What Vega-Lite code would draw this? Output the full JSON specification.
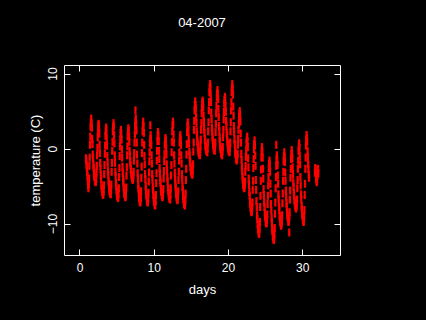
{
"$schema":"https://vega.github.io/schema/vega-lite/v6.json",
"width":276,"height":190,
"autosize":{"type":"none"},
"padding":{"left":64,"top":65,"right":86,"bottom":65},
"background":"black",
"config":{"view":{"stroke":"white","strokeWidth":1},"font":"Liberation Sans"},
"title":{"text":"04-2007","color":"white","font":"Liberation Sans","fontSize":13,"fontWeight":"normal","anchor":"middle","frame":"group","baseline":"alphabetic","offset":25},
"data":{"values":[
{"h":21,"t":-1.3},{"h":22,"t":-1.6},{"h":23,"t":-2.2},
{"h":24,"t":-2.6},{"h":25,"t":-3.1},{"h":26,"t":-3.7},{"h":27,"t":-4.3},{"h":28,"t":-4.9},{"h":29,"t":-5.3},{"h":30,"t":-4.7},{"h":31,"t":-4.0},{"h":32,"t":-2.3},{"h":33,"t":-1.2},{"h":34,"t":0.5},{"h":35,"t":1.6},{"h":36,"t":2.9},{"h":37,"t":3.5},{"h":38,"t":4.0},{"h":39,"t":3.4},{"h":40,"t":2.8},{"h":41,"t":1.3},{"h":42,"t":0.6},{"h":43,"t":-0.8},{"h":44,"t":-1.3},{"h":45,"t":-2.2},{"h":46,"t":-2.6},{"h":47,"t":-3.3},
{"h":48,"t":-3.7},{"h":49,"t":-3.8},{"h":50,"t":-4.3},{"h":51,"t":-4.2},{"h":52,"t":-4.5},{"h":53,"t":-4.4},{"h":54,"t":-4.1},{"h":55,"t":-3.2},{"h":56,"t":-2.3},{"h":57,"t":-0.9},{"h":58,"t":0.1},{"h":59,"t":1.5},{"h":60,"t":2.2},{"h":61,"t":3.1},{"h":62,"t":3.3},{"h":63,"t":2.7},{"h":64,"t":2.0},{"h":65,"t":0.5},{"h":66,"t":-0.6},{"h":67,"t":-1.9},{"h":68,"t":-2.7},{"h":69,"t":-3.6},{"h":70,"t":-4.1},{"h":71,"t":-4.9},
{"h":72,"t":-5.3},{"h":73,"t":-5.4},{"h":74,"t":-5.8},{"h":75,"t":-6.0},{"h":76,"t":-6.2},{"h":77,"t":-6.1},{"h":78,"t":-5.7},{"h":79,"t":-4.9},{"h":80,"t":-3.4},{"h":81,"t":-2.2},{"h":82,"t":-0.7},{"h":83,"t":0.4},{"h":84,"t":1.7},{"h":85,"t":2.3},{"h":86,"t":2.8},{"h":87,"t":2.5},{"h":88,"t":1.4},{"h":89,"t":0.4},{"h":90,"t":-1.0},{"h":91,"t":-1.9},{"h":92,"t":-3.0},{"h":93,"t":-3.5},{"h":94,"t":-4.3},{"h":95,"t":-4.7},
{"h":96,"t":-5.2},{"h":97,"t":-5.6},{"h":98,"t":-5.7},{"h":99,"t":-6.0},{"h":100,"t":-5.9},{"h":101,"t":-6.1},{"h":102,"t":-5.5},{"h":103,"t":-4.8},{"h":104,"t":-3.1},{"h":105,"t":-1.9},{"h":106,"t":-0.3},{"h":107,"t":0.9},{"h":108,"t":2.3},{"h":109,"t":2.9},{"h":110,"t":3.4},{"h":111,"t":3.0},{"h":112,"t":1.8},{"h":113,"t":0.7},{"h":114,"t":-0.9},{"h":115,"t":-1.9},{"h":116,"t":-3.1},{"h":117,"t":-3.7},{"h":118,"t":-4.6},{"h":119,"t":-5.0},
{"h":120,"t":-5.6},{"h":121,"t":-5.8},{"h":122,"t":-6.3},{"h":123,"t":-6.4},{"h":124,"t":-6.6},{"h":125,"t":-6.5},{"h":126,"t":-6.1},{"h":127,"t":-5.3},{"h":128,"t":-3.8},{"h":129,"t":-2.6},{"h":130,"t":-1.0},{"h":131,"t":0.3},{"h":132,"t":1.2},{"h":133,"t":2.1},{"h":134,"t":2.5},{"h":135,"t":2.0},{"h":136,"t":1.2},{"h":137,"t":-0.1},{"h":138,"t":-1.2},{"h":139,"t":-2.4},{"h":140,"t":-3.2},{"h":141,"t":-4.1},{"h":142,"t":-4.5},{"h":143,"t":-5.2},
{"h":144,"t":-5.5},{"h":145,"t":-6.0},{"h":146,"t":-6.1},{"h":147,"t":-6.2},{"h":148,"t":-6.5},{"h":149,"t":-6.4},{"h":150,"t":-6.0},{"h":151,"t":-5.2},{"h":152,"t":-3.6},{"h":153,"t":-2.5},{"h":154,"t":-0.9},{"h":155,"t":0.3},{"h":156,"t":1.6},{"h":157,"t":2.2},{"h":158,"t":2.7},{"h":159,"t":2.4},{"h":160,"t":1.6},{"h":161,"t":0.9},{"h":162,"t":-0.3},{"h":163,"t":-0.9},{"h":164,"t":-1.8},{"h":165,"t":-2.2},{"h":166,"t":-2.8},{"h":167,"t":-3.1},
{"h":168,"t":-3.5},{"h":169,"t":-3.6},{"h":170,"t":-3.9},{"h":171,"t":-4.0},{"h":172,"t":-4.2},{"h":173,"t":-4.1},{"h":174,"t":-3.7},{"h":175,"t":-3.1},{"h":176,"t":-1.6},{"h":177,"t":-0.6},{"h":178,"t":0.8},{"h":179,"t":1.9},{"h":180,"t":3.0},{"h":181,"t":3.6},{"h":181,"t":5.1},{"h":182,"t":4.0},{"h":183,"t":3.3},{"h":184,"t":2.4},{"h":185,"t":0.8},{"h":186,"t":-0.8},{"h":187,"t":-2.0},{"h":188,"t":-3.3},{"h":189,"t":-4.0},{"h":190,"t":-4.9},{"h":191,"t":-5.4},
{"h":192,"t":-6.0},{"h":193,"t":-6.5},{"h":194,"t":-6.7},{"h":195,"t":-7.1},{"h":196,"t":-7.0},{"h":197,"t":-7.2},{"h":198,"t":-6.6},{"h":199,"t":-5.7},{"h":200,"t":-3.9},{"h":201,"t":-2.4},{"h":202,"t":-0.6},{"h":203,"t":0.8},{"h":204,"t":2.3},{"h":205,"t":3.1},{"h":206,"t":3.6},{"h":207,"t":3.0},{"h":208,"t":2.1},{"h":209,"t":0.5},{"h":210,"t":-1.0},{"h":211,"t":-2.1},{"h":212,"t":-3.4},{"h":213,"t":-4.1},{"h":214,"t":-5.0},{"h":215,"t":-5.5},
{"h":216,"t":-6.2},{"h":217,"t":-6.3},{"h":218,"t":-6.8},{"h":219,"t":-7.0},{"h":220,"t":-7.2},{"h":221,"t":-7.1},{"h":222,"t":-6.7},{"h":223,"t":-5.9},{"h":224,"t":-4.4},{"h":225,"t":-3.2},{"h":226,"t":-1.7},{"h":227,"t":-0.5},{"h":228,"t":0.7},{"h":229,"t":1.3},{"h":229,"t":3.1},{"h":230,"t":1.8},{"h":231,"t":1.2},{"h":232,"t":0.5},{"h":233,"t":-0.9},{"h":234,"t":-2.0},{"h":235,"t":-3.4},{"h":236,"t":-4.1},{"h":237,"t":-5.1},{"h":238,"t":-5.5},{"h":239,"t":-6.2},
{"h":240,"t":-6.6},{"h":241,"t":-7.0},{"h":242,"t":-7.1},{"h":243,"t":-7.5},{"h":244,"t":-7.4},{"h":245,"t":-7.6},{"h":246,"t":-7.0},{"h":247,"t":-6.2},{"h":248,"t":-4.6},{"h":249,"t":-3.3},{"h":250,"t":-1.6},{"h":251,"t":-0.3},{"h":252,"t":1.0},{"h":253,"t":1.7},{"h":254,"t":2.2},{"h":255,"t":1.7},{"h":256,"t":1.0},{"h":257,"t":-0.3},{"h":258,"t":-1.4},{"h":259,"t":-2.6},{"h":260,"t":-3.3},{"h":261,"t":-4.2},{"h":262,"t":-4.6},{"h":263,"t":-5.3},
{"h":264,"t":-5.7},{"h":265,"t":-5.8},{"h":266,"t":-6.2},{"h":267,"t":-6.3},{"h":268,"t":-6.5},{"h":269,"t":-6.4},{"h":270,"t":-6.0},{"h":271,"t":-5.4},{"h":272,"t":-4.0},{"h":273,"t":-3.0},{"h":274,"t":-1.7},{"h":275,"t":-0.7},{"h":276,"t":0.5},{"h":277,"t":1.0},{"h":278,"t":1.4},{"h":279,"t":1.1},{"h":280,"t":0.1},{"h":281,"t":-0.8},{"h":282,"t":-2.1},{"h":283,"t":-2.9},{"h":284,"t":-3.9},{"h":285,"t":-4.4},{"h":286,"t":-5.2},{"h":287,"t":-5.5},
{"h":288,"t":-5.9},{"h":289,"t":-6.3},{"h":290,"t":-6.4},{"h":291,"t":-6.7},{"h":292,"t":-6.6},{"h":293,"t":-6.8},{"h":294,"t":-6.2},{"h":295,"t":-5.3},{"h":296,"t":-3.6},{"h":297,"t":-2.2},{"h":298,"t":-0.5},{"h":299,"t":0.9},{"h":300,"t":2.3},{"h":301,"t":3.1},{"h":302,"t":3.6},{"h":303,"t":3.2},{"h":304,"t":1.9},{"h":305,"t":0.8},{"h":306,"t":-0.9},{"h":307,"t":-2.0},{"h":308,"t":-3.2},{"h":309,"t":-3.9},{"h":310,"t":-4.8},{"h":311,"t":-5.2},
{"h":312,"t":-5.9},{"h":313,"t":-6.1},{"h":314,"t":-6.5},{"h":315,"t":-6.8},{"h":316,"t":-6.7},{"h":317,"t":-6.9},{"h":318,"t":-6.4},{"h":319,"t":-5.7},{"h":320,"t":-4.2},{"h":321,"t":-3.1},{"h":322,"t":-1.6},{"h":323,"t":-0.5},{"h":324,"t":0.8},{"h":325,"t":1.4},{"h":326,"t":1.8},{"h":327,"t":1.2},{"h":328,"t":0.5},{"h":329,"t":-0.9},{"h":330,"t":-2.0},{"h":331,"t":-3.4},{"h":332,"t":-4.1},{"h":333,"t":-5.1},{"h":334,"t":-5.5},{"h":335,"t":-6.3},
{"h":336,"t":-6.7},{"h":337,"t":-6.9},{"h":338,"t":-7.3},{"h":339,"t":-7.4},{"h":340,"t":-7.6},{"h":341,"t":-7.5},{"h":342,"t":-7.0},{"h":343,"t":-6.0},{"h":344,"t":-4.2},{"h":345,"t":-2.7},{"h":346,"t":-0.8},{"h":347,"t":0.6},{"h":348,"t":2.2},{"h":349,"t":3.0},{"h":350,"t":3.5},{"h":351,"t":3.1},{"h":352,"t":2.5},{"h":353,"t":1.4},{"h":354,"t":0.7},{"h":355,"t":-0.4},{"h":356,"t":-0.9},{"h":357,"t":-1.6},{"h":358,"t":-1.9},{"h":359,"t":-2.5},
{"h":360,"t":-2.9},{"h":361,"t":-3.0},{"h":362,"t":-3.1},{"h":363,"t":-3.4},{"h":364,"t":-3.3},{"h":365,"t":-3.5},{"h":366,"t":-2.9},{"h":367,"t":-2.1},{"h":368,"t":-0.4},{"h":369,"t":0.8},{"h":370,"t":2.5},{"h":371,"t":3.7},{"h":372,"t":5.1},{"h":373,"t":5.8},{"h":374,"t":6.3},{"h":375,"t":5.8},{"h":376,"t":5.3},{"h":377,"t":4.2},{"h":378,"t":3.4},{"h":379,"t":2.3},{"h":380,"t":1.8},{"h":381,"t":1.0},{"h":382,"t":0.7},{"h":383,"t":0.1},
{"h":384,"t":-0.2},{"h":385,"t":-0.5},{"h":386,"t":-0.6},{"h":387,"t":-0.8},{"h":388,"t":-0.7},{"h":389,"t":-0.9},{"h":390,"t":-0.5},{"h":391,"t":0.3},{"h":392,"t":1.2},{"h":393,"t":2.5},{"h":394,"t":3.4},{"h":395,"t":4.7},{"h":396,"t":5.4},{"h":397,"t":6.1},{"h":398,"t":6.4},{"h":399,"t":6.0},{"h":400,"t":5.5},{"h":401,"t":4.4},{"h":402,"t":3.6},{"h":403,"t":2.6},{"h":404,"t":2.1},{"h":405,"t":1.3},{"h":406,"t":1.0},{"h":407,"t":0.4},
{"h":408,"t":0.2},{"h":409,"t":-0.1},{"h":410,"t":-0.2},{"h":411,"t":-0.4},{"h":412,"t":-0.3},{"h":413,"t":-0.5},{"h":414,"t":0.0},{"h":415,"t":0.8},{"h":416,"t":2.3},{"h":417,"t":3.5},{"h":418,"t":5.1},{"h":419,"t":6.2},{"h":420,"t":7.5},{"h":421,"t":8.1},{"h":422,"t":8.6},{"h":423,"t":8.2},{"h":424,"t":7.2},{"h":425,"t":6.2},{"h":426,"t":4.8},{"h":427,"t":3.9},{"h":428,"t":2.8},{"h":429,"t":2.3},{"h":430,"t":1.5},{"h":431,"t":1.1},
{"h":432,"t":0.6},{"h":433,"t":0.4},{"h":434,"t":0.0},{"h":435,"t":-0.1},{"h":436,"t":-0.2},{"h":437,"t":-0.3},{"h":438,"t":0.2},{"h":439,"t":0.8},{"h":440,"t":2.2},{"h":441,"t":3.3},{"h":442,"t":4.7},{"h":443,"t":5.7},{"h":444,"t":6.8},{"h":445,"t":7.4},{"h":446,"t":7.8},{"h":447,"t":7.3},{"h":448,"t":6.6},{"h":449,"t":5.3},{"h":450,"t":4.2},{"h":451,"t":3.0},{"h":452,"t":2.3},{"h":453,"t":1.4},{"h":454,"t":1.0},{"h":455,"t":0.3},
{"h":456,"t":0.0},{"h":457,"t":-0.2},{"h":458,"t":-0.6},{"h":459,"t":-0.7},{"h":460,"t":-0.8},{"h":461,"t":-0.9},{"h":462,"t":-0.4},{"h":463,"t":0.2},{"h":464,"t":1.5},{"h":465,"t":2.5},{"h":466,"t":3.9},{"h":467,"t":4.9},{"h":468,"t":6.0},{"h":469,"t":6.5},{"h":470,"t":6.9},{"h":471,"t":6.6},{"h":472,"t":5.7},{"h":473,"t":4.9},{"h":474,"t":3.7},{"h":475,"t":3.0},{"h":476,"t":2.1},{"h":477,"t":1.7},{"h":478,"t":1.0},{"h":479,"t":0.6},
{"h":480,"t":0.3},{"h":481,"t":0.0},{"h":482,"t":-0.2},{"h":483,"t":-0.4},{"h":484,"t":-0.3},{"h":485,"t":-0.5},{"h":486,"t":0.1},{"h":487,"t":0.8},{"h":488,"t":2.3},{"h":489,"t":3.5},{"h":490,"t":5.1},{"h":491,"t":6.2},{"h":492,"t":7.5},{"h":493,"t":8.1},{"h":494,"t":8.6},{"h":495,"t":8.0},{"h":496,"t":7.2},{"h":497,"t":5.6},{"h":498,"t":4.4},{"h":499,"t":3.0},{"h":500,"t":2.2},{"h":501,"t":1.2},{"h":502,"t":0.6},{"h":503,"t":-0.2},
{"h":504,"t":-0.6},{"h":505,"t":-0.8},{"h":506,"t":-1.3},{"h":507,"t":-1.4},{"h":508,"t":-1.6},{"h":509,"t":-1.5},{"h":510,"t":-1.2},{"h":511,"t":-0.7},{"h":512,"t":0.5},{"h":513,"t":1.3},{"h":514,"t":2.5},{"h":515,"t":3.3},{"h":516,"t":4.2},{"h":517,"t":4.6},{"h":518,"t":5.0},{"h":519,"t":4.4},{"h":520,"t":3.6},{"h":521,"t":2.0},{"h":522,"t":0.8},{"h":523,"t":-0.7},{"h":524,"t":-1.5},{"h":525,"t":-2.5},{"h":526,"t":-3.0},{"h":527,"t":-3.8},
{"h":528,"t":-4.2},{"h":529,"t":-4.7},{"h":530,"t":-4.9},{"h":531,"t":-5.2},{"h":532,"t":-5.1},{"h":533,"t":-5.3},{"h":534,"t":-4.9},{"h":535,"t":-4.4},{"h":536,"t":-3.1},{"h":537,"t":-2.3},{"h":538,"t":-1.1},{"h":539,"t":-0.2},{"h":540,"t":0.8},{"h":541,"t":1.2},{"h":542,"t":1.6},{"h":543,"t":1.0},{"h":544,"t":0.2},{"h":545,"t":-1.3},{"h":546,"t":-2.5},{"h":547,"t":-4.0},{"h":548,"t":-4.8},{"h":549,"t":-5.8},{"h":550,"t":-6.3},{"h":551,"t":-7.1},
{"h":552,"t":-7.4},{"h":553,"t":-7.9},{"h":554,"t":-8.0},{"h":555,"t":-8.3},{"h":556,"t":-8.5},{"h":557,"t":-8.4},{"h":558,"t":-7.9},{"h":559,"t":-7.2},{"h":560,"t":-5.5},{"h":561,"t":-4.3},{"h":562,"t":-2.6},{"h":563,"t":-1.4},{"h":564,"t":-0.1},{"h":565,"t":0.6},{"h":566,"t":1.1},{"h":567,"t":0.4},{"h":568,"t":-0.9},{"h":569,"t":-2.3},{"h":570,"t":-4.2},{"h":571,"t":-5.5},{"h":572,"t":-7.0},{"h":573,"t":-7.8},{"h":574,"t":-8.9},{"h":575,"t":-9.4},
{"h":576,"t":-10.1},{"h":577,"t":-10.6},{"h":578,"t":-10.8},{"h":579,"t":-11.2},{"h":580,"t":-11.4},{"h":581,"t":-11.3},{"h":582,"t":-10.7},{"h":583,"t":-9.8},{"h":584,"t":-7.8},{"h":585,"t":-6.3},{"h":586,"t":-4.3},{"h":587,"t":-2.8},{"h":588,"t":-1.2},{"h":589,"t":-0.3},{"h":590,"t":0.2},{"h":591,"t":-0.4},{"h":592,"t":-1.2},{"h":593,"t":-2.7},{"h":594,"t":-4.0},{"h":595,"t":-5.4},{"h":596,"t":-6.2},{"h":597,"t":-7.2},{"h":598,"t":-7.8},{"h":599,"t":-8.6},
{"h":600,"t":-9.0},{"h":601,"t":-9.2},{"h":602,"t":-9.7},{"h":603,"t":-9.8},{"h":604,"t":-10.0},{"h":605,"t":-9.9},{"h":606,"t":-9.5},{"h":607,"t":-8.8},{"h":608,"t":-7.4},{"h":609,"t":-6.3},{"h":610,"t":-4.9},{"h":611,"t":-3.8},{"h":612,"t":-2.6},{"h":613,"t":-2.0},{"h":614,"t":-1.6},{"h":615,"t":-2.2},{"h":616,"t":-3.1},{"h":617,"t":-4.7},{"h":618,"t":-6.0},{"h":619,"t":-7.4},{"h":620,"t":-8.3},{"h":621,"t":-9.3},{"h":622,"t":-9.9},{"h":623,"t":-10.7},
{"h":624,"t":-11.0},{"h":625,"t":-11.6},{"h":626,"t":-11.8},{"h":627,"t":-12.1},{"h":628,"t":-12.2},{"h":629,"t":-12.0},{"h":630,"t":-11.5},{"h":631,"t":-10.6},{"h":632,"t":-8.7},{"h":633,"t":-7.2},{"h":634,"t":-5.3},{"h":635,"t":-3.8},{"h":636,"t":-2.3},{"h":636,"t":0.5},{"h":637,"t":-1.4},{"h":638,"t":-0.9},{"h":639,"t":-1.5},{"h":640,"t":-2.2},{"h":641,"t":-3.6},{"h":642,"t":-4.7},{"h":643,"t":-6.1},{"h":644,"t":-6.8},{"h":645,"t":-7.8},{"h":646,"t":-8.2},{"h":647,"t":-9.0},
{"h":648,"t":-9.3},{"h":649,"t":-9.7},{"h":650,"t":-9.9},{"h":651,"t":-10.2},{"h":652,"t":-10.3},{"h":653,"t":-10.1},{"h":654,"t":-9.7},{"h":655,"t":-8.9},{"h":656,"t":-7.3},{"h":657,"t":-6.0},{"h":658,"t":-4.3},{"h":659,"t":-3.1},{"h":660,"t":-1.7},{"h":661,"t":-1.0},{"h":662,"t":-0.5},{"h":663,"t":-1.1},{"h":664,"t":-1.8},{"h":665,"t":-3.2},{"h":666,"t":-4.3},{"h":667,"t":-5.6},{"h":668,"t":-6.4},{"h":669,"t":-7.3},{"h":670,"t":-7.7},{"h":671,"t":-8.5},
{"h":672,"t":-8.9},{"h":673,"t":-9.2},{"h":674,"t":-9.3},{"h":675,"t":-9.7},{"h":676,"t":-9.8},{"h":677,"t":-9.6},{"h":678,"t":-9.2},{"h":678,"t":-11.2},{"h":679,"t":-8.5},{"h":680,"t":-6.8},{"h":681,"t":-5.6},{"h":682,"t":-3.9},{"h":683,"t":-2.7},{"h":684,"t":-1.4},{"h":685,"t":-0.7},{"h":686,"t":-0.2},{"h":687,"t":-0.7},{"h":688,"t":-1.3},{"h":689,"t":-2.5},{"h":690,"t":-3.4},{"h":691,"t":-4.5},{"h":692,"t":-5.1},{"h":693,"t":-5.9},{"h":694,"t":-6.3},{"h":695,"t":-6.9},
{"h":696,"t":-7.2},{"h":697,"t":-7.5},{"h":698,"t":-7.7},{"h":699,"t":-7.9},{"h":700,"t":-8.0},{"h":701,"t":-7.8},{"h":702,"t":-7.5},{"h":703,"t":-6.8},{"h":704,"t":-5.3},{"h":705,"t":-4.2},{"h":706,"t":-2.7},{"h":707,"t":-1.6},{"h":708,"t":-0.3},{"h":709,"t":0.3},{"h":710,"t":0.7},{"h":711,"t":0.1},{"h":712,"t":-1.0},{"h":713,"t":-2.1},{"h":714,"t":-3.8},{"h":715,"t":-4.9},{"h":716,"t":-6.1},{"h":717,"t":-6.8},{"h":718,"t":-7.7},{"h":719,"t":-8.1},
{"h":720,"t":-8.8},{"h":721,"t":-9.0},{"h":722,"t":-9.5},{"h":723,"t":-9.6},{"h":724,"t":-9.8},{"h":725,"t":-9.7},{"h":726,"t":-9.1},{"h":727,"t":-8.2},{"h":728,"t":-6.2},{"h":729,"t":-4.7},{"h":730,"t":-2.7},{"h":731,"t":-1.2},{"h":732,"t":0.4},{"h":733,"t":1.2},{"h":734,"t":1.8},{"h":735,"t":1.4},{"h":736,"t":0.9},{"h":737,"t":-0.3},{"h":738,"t":-1.1},{"h":739,"t":-2.1},{"h":740,"t":-2.7},{"h":741,"t":-3.5},{"h":742,"t":-3.9},
{"h":761,"t":-3.2},{"h":762,"t":-2.6},{"h":763,"t":-2.8},{"h":764,"t":-3.4},{"h":765,"t":-3.9},{"h":766,"t":-4.3},{"h":767,"t":-4.5},{"h":768,"t":-4.1},{"h":769,"t":-3.6},{"h":770,"t":-3.0},{"h":771,"t":-2.7},{"h":772,"t":-3.3}
]},
"layer":[
{"mark":{"type":"point","filled":true,"opacity":1,"color":"#ff0000","shape":"M-0.28,-1H0.28V1H-0.28Z","size":64,"strokeWidth":0},
"encoding":{
"x":{"field":"h","type":"quantitative","scale":{"domain":[-50,842],"nice":false,"zero":false},
"axis":{"orient":"bottom","values":[0,240,480,720],"labelExpr":"format(datum.value/24,'d')","title":"days","grid":false,"domain":false,"tickColor":"white","tickSize":-6,"tickWidth":1,"labelColor":"white","labelFont":"Liberation Sans","labelFontSize":12,"labelBaseline":"alphabetic","labelPadding":22,"titleColor":"white","titleFont":"Liberation Sans","titleFontSize":13,"titleFontWeight":"normal","titleBaseline":"alphabetic","titleY":38}},
"y":{"field":"t","type":"quantitative","scale":{"domain":[-14.2,11.15],"nice":false,"zero":false},
"axis":{"orient":"left","values":[-10,0,10],"title":"temperature (C)","grid":false,"domain":false,"tickColor":"white","tickSize":-6,"tickWidth":1,"labelColor":"white","labelFont":"Liberation Sans","labelFontSize":12,"labelAngle":270,"labelAlign":"center","labelBaseline":"alphabetic","labelPadding":14,"titleColor":"white","titleFont":"Liberation Sans","titleFontSize":13,"titleFontWeight":"normal","titleBaseline":"alphabetic","titleAngle":270,"titleX":-24.5}}
}},
{"transform":[{"filter":"datum.h == 24"}],
"mark":{"type":"point","opacity":0},
"encoding":{
"x":{"field":"h","type":"quantitative","axis":{"orient":"top","values":[0,240,480,720],"labels":false,"title":null,"grid":false,"domain":false,"tickColor":"white","tickSize":-6,"tickWidth":1}},
"y":{"field":"t","type":"quantitative","axis":{"orient":"right","values":[-10,0,10],"labels":false,"title":null,"grid":false,"domain":false,"tickColor":"white","tickSize":-6,"tickWidth":1}}
}}
],
"resolve":{"axis":{"x":"independent","y":"independent"}}
}
